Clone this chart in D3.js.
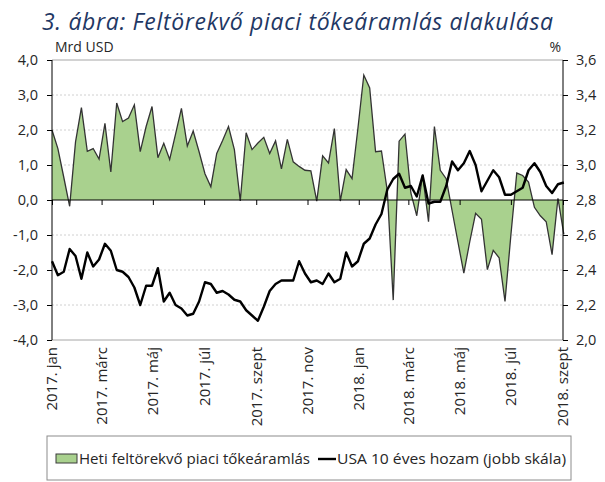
<!DOCTYPE html>
<html>
<head>
<meta charset="utf-8">
<script src="https://cdn.jsdelivr.net/npm/d3@7"></script>
<style>
  body { margin: 0; background: #fff; }
  svg { display: block; font-family: "Open Sans", sans-serif; }
</style>
</head>
<body>
<svg id="chart" width="605" height="482"></svg>
<script>
// heti feltörekvő piaci tőkeáramlás (Mrd USD), 2017. jan - 2018. aug
const flows = [
  2.0, 1.47, 0.65, -0.18, 1.66, 2.64, 1.39, 1.47, 1.17, 2.19,
  0.8, 2.77, 2.24, 2.34, 2.72, 1.38, 2.1, 2.67, 1.21, 1.62,
  1.16, 1.88, 2.62, 1.54, 1.97, 1.38, 0.75, 0.38, 1.33, 1.7,
  2.1, 1.44, -0.03, 1.92, 1.44, 1.63, 1.79, 1.33, 1.69, 0.89,
  1.73, 1.09, 0.96, 0.85, 0.83, -0.03, 1.26, 1.06, 2.04, -0.03,
  0.87, 0.61, 2.05, 3.57, 3.2, 1.38, 1.4, 0.25, -2.86, 1.68,
  1.88, 0.2, -0.45, 0.72, -0.62, 2.1, 0.85, 0.61, -0.3, -1.2,
  -2.09, -1.2, -0.38, -0.55, -1.99, -1.44, -1.65, -2.9, -1.0, 0.77,
  0.7, 0.51, -0.21, -0.45, -0.62, -1.56, 0.05, -0.98
];

// USA 10 éves hozam (%)
const yields = [
  2.45, 2.37, 2.39, 2.52, 2.48, 2.35, 2.50, 2.42, 2.46, 2.55,
  2.51, 2.40, 2.39, 2.36, 2.30, 2.20, 2.31, 2.31, 2.41, 2.22,
  2.27, 2.20, 2.18, 2.14, 2.15, 2.22, 2.33, 2.32, 2.27, 2.28,
  2.26, 2.23, 2.22, 2.17, 2.14, 2.11, 2.19, 2.28, 2.32, 2.34,
  2.34, 2.34, 2.45, 2.38, 2.33, 2.34, 2.32, 2.38, 2.33, 2.35,
  2.50, 2.42, 2.45, 2.55, 2.58, 2.66, 2.72, 2.86, 2.92, 2.95,
  2.87, 2.88, 2.82, 2.94, 2.78, 2.79, 2.79, 2.88, 3.02, 2.97,
  3.01, 3.08, 3.00, 2.85, 2.91, 2.97, 2.93, 2.83, 2.83, 2.85,
  2.87, 2.97, 3.01, 2.96, 2.88, 2.84, 2.89, 2.90
];

const firstWeek = "2017-01-01";
const tickMonths = ["2017-01-01", "2017-03-01", "2017-05-01", "2017-07-01", "2017-09-01", "2017-11-01",
  "2018-01-01", "2018-03-01", "2018-05-01", "2018-07-01", "2018-09-01"];
const tickLabels = ["2017. jan", "2017. márc", "2017. máj", "2017. júl", "2017. szept", "2017. nov",
  "2018. jan", "2018. márc", "2018. máj", "2018. júl", "2018. szept"];
const leftTicks = [-4, -3, -2, -1, 0, 1, 2, 3, 4];
const rightTicks = [2.0, 2.2, 2.4, 2.6, 2.8, 3.0, 3.2, 3.4, 3.6];

const parse = d3.timeParse("%Y-%m-%d");
const start = parse(firstWeek);
const weeks = flows.map((_, i) => d3.timeDay.offset(start, 7 * i));
const data = weeks.map((d, i) => ({ date: d, flow: flows[i], yld: yields[i] }));

const m = { left: 52, right: 563, top: 60, bottom: 340 };
const fmt = v => d3.format(".1f")(v).replace(".", ",").replace("−", "-");
const axisFont = 14.5;

const svg = d3.select("#chart");

const x = d3.scaleTime()
  .domain([parse(tickMonths[0]), parse(tickMonths[tickMonths.length - 1])])
  .range([m.left, m.right]);
const y = d3.scaleLinear().domain([-4, 4]).range([m.bottom, m.top]);
const y2 = d3.scaleLinear().domain([2.0, 3.6]).range([m.bottom, m.top]);

// title
svg.append("text")
  .attr("x", 42).attr("y", 30)
  .attr("textLength", 511)
  .attr("lengthAdjust", "spacing")
  .attr("font-size", 23)
  .attr("font-style", "italic")
  .attr("fill", "#1f3864")
  .text("3. ábra: Feltörekvő piaci tőkeáramlás alakulása");

// gridlines
svg.append("g")
  .selectAll("line")
  .data(leftTicks.filter(d => d !== 0 && Math.abs(d) !== 4))
  .join("line")
  .attr("x1", m.left).attr("x2", m.right)
  .attr("y1", d => y(d)).attr("y2", d => y(d))
  .attr("stroke", "#d0d0d0")
  .attr("stroke-dasharray", "2,2");

// frame top/bottom
svg.append("line").attr("x1", m.left).attr("x2", m.right).attr("y1", m.top).attr("y2", m.top).attr("stroke", "#a6a6a6");
svg.append("line").attr("x1", m.left).attr("x2", m.right).attr("y1", m.bottom).attr("y2", m.bottom).attr("stroke", "#a6a6a6");

// area
const area = d3.area()
  .x(d => x(d.date))
  .y0(y(0))
  .y1(d => y(d.flow));

svg.append("path")
  .datum(data)
  .attr("d", area)
  .attr("fill", "#a9d18e");

svg.append("path")
  .datum(data)
  .attr("d", d3.line().x(d => x(d.date)).y(d => y(d.flow)))
  .attr("fill", "none")
  .attr("stroke", "#333")
  .attr("stroke-width", 1.3);

// y axes
const yAxisL = svg.append("g")
  .attr("transform", `translate(${m.left},0)`)
  .call(d3.axisLeft(y).tickValues(leftTicks).tickSize(5).tickPadding(9).tickFormat(fmt));
const yAxisR = svg.append("g")
  .attr("transform", `translate(${m.right},0)`)
  .call(d3.axisRight(y2).tickValues(rightTicks).tickSize(5).tickPadding(8).tickFormat(fmt));

[yAxisL, yAxisR].forEach(g => {
  g.select(".domain").attr("stroke", "#000").attr("d", `M0,${m.top}V${m.bottom}`);
  g.selectAll(".tick line").attr("stroke", "#000");
  g.selectAll(".tick text").attr("font-size", axisFont).attr("fill", "#262626")
    .attr("font-family", "'Open Sans', sans-serif");
});

// x axis at zero
const xAxis = svg.append("g")
  .attr("transform", `translate(0,${y(0)})`)
  .call(d3.axisBottom(x).tickValues(tickMonths.map(parse)).tickSize(5).tickFormat(""));
xAxis.select(".domain").attr("stroke", "#000").attr("d", `M${m.left},0H${m.right}`);
xAxis.selectAll(".tick line").attr("stroke", "#000");

// x labels
svg.append("g")
  .selectAll("text")
  .data(tickMonths)
  .join("text")
  .attr("transform", d => `translate(${x(parse(d))},${m.bottom + 7}) rotate(-90)`)
  .attr("text-anchor", "end")
  .attr("dy", "0.36em")
  .attr("font-size", 15)
  .attr("fill", "#262626")
  .text((d, i) => tickLabels[i]);

// yield line
svg.append("path")
  .datum(data)
  .attr("d", d3.line().x(d => x(d.date)).y(d => y2(d.yld)))
  .attr("fill", "none")
  .attr("stroke", "#000")
  .attr("stroke-width", 2.4)
  .attr("stroke-linejoin", "round");

// unit labels
svg.append("text").attr("x", 55).attr("y", 52).attr("font-size", 14).attr("fill", "#262626").text("Mrd USD");
svg.append("text").attr("x", 561).attr("y", 52).attr("text-anchor", "end").attr("font-size", 14).attr("fill", "#262626").text("%");

// legend
const legend = svg.append("g");
legend.append("rect")
  .attr("x", 47).attr("y", 436).attr("width", 524).attr("height", 44)
  .attr("fill", "none").attr("stroke", "#8c8c8c");
legend.append("rect")
  .attr("x", 56).attr("y", 454).attr("width", 21).attr("height", 9)
  .attr("fill", "#a9d18e").attr("stroke", "#3a3a3a").attr("stroke-width", 1);
legend.append("text")
  .attr("x", 79).attr("y", 464).attr("font-size", 14.5).attr("fill", "#262626")
  .attr("textLength", 231).attr("lengthAdjust", "spacingAndGlyphs")
  .text("Heti feltörekvő piaci tőkeáramlás");
legend.append("line")
  .attr("x1", 318).attr("x2", 336).attr("y1", 459).attr("y2", 459)
  .attr("stroke", "#000").attr("stroke-width", 2.4);
legend.append("text")
  .attr("x", 337).attr("y", 464).attr("font-size", 14.5).attr("fill", "#262626")
  .attr("textLength", 229).attr("lengthAdjust", "spacingAndGlyphs")
  .text("USA 10 éves hozam (jobb skála)");
</script>
</body>
</html>
